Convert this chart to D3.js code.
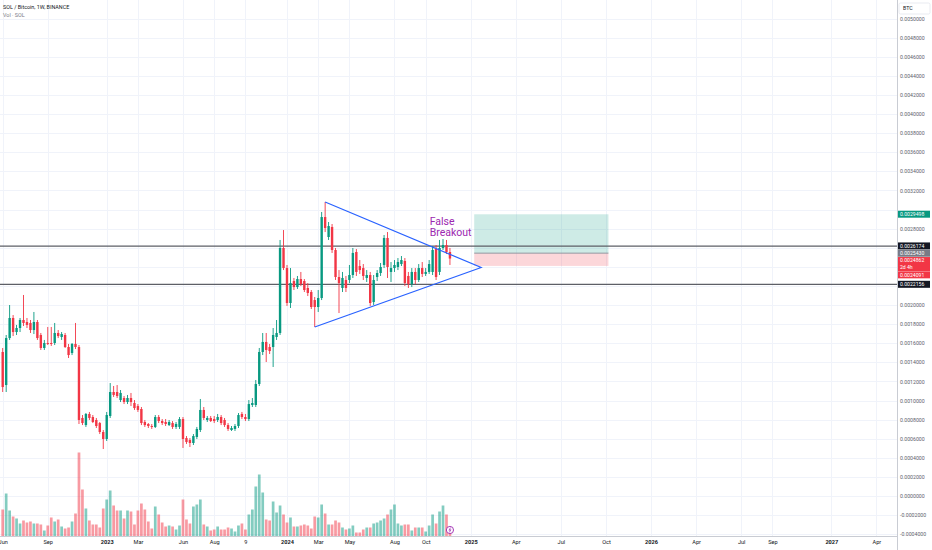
<!DOCTYPE html>
<html><head><meta charset="utf-8">
<script src="https://cdn.jsdelivr.net/npm/d3@7"></script>
<style>
body{margin:0;background:#fff;}
svg{display:block;font-family:Roboto,"Liberation Sans",sans-serif;}
</style>
</head><body>
<svg id="c" width="932" height="550"></svg>
<script>
// ---------- DATA (SOL / BTC weekly, BINANCE) ----------
const firstBar = "2022-06-06"; // Monday of first weekly bar
const opens = [.001508,.001162,.001654,.001864,.001717,.001759,.001843,.001822,.001812,.001738,
.001822,.001686,.001550,.001602,.001602,.001602,.001707,.001665,.001686,.001560,
.001497,.001592,.001560,.000817,.000743,.000859,.000827,.000796,.000764,.000670,
.000597,.000838,.001089,.001089,.001005,.001026,.000984,.001026,.000974,.000942,
.000911,.000775,.000754,.000733,.000723,.000827,.000785,.000775,.000743,.000764,
.000723,.000723,.000806,.000607,.000586,.000555,.000618,.000691,.000901,.000796,
.000817,.000806,.000796,.000827,.000796,.000743,.000691,.000702,.000733,.000859,
.000827,.000806,.000953,.000953,.001173,.001508,.001613,.001560,.001560,.001665,
.001707,.002597,.002387,.002021,.002251,.002188,.002272,.002251,.002178,.002136,
.002052,.001979,.002073,.002921,.002712,.002817,.002576,.002293,.002178,.002262,
.002262,.002314,.002555,.002408,.002387,.002283,.002314,.002031,.002293,.002335,
.002419,.002702,.002346,.002387,.002398,.002429,.002461,.002304,.002220,.002346,
.002262,.002387,.002325,.002346,.002346,.002586,.002346,.002597,.002628,.002555];
const highs = [.001550,.001686,.002000,.001895,.001791,.001864,.002105,.001864,.001843,.001927,
.001843,.001707,.001634,.001770,.001770,.001812,.001738,.001717,.001707,.001592,
.001602,.001812,.001581,.000848,.000869,.000880,.000848,.000817,.000775,.000691,
.000880,.001183,.001152,.001162,.001110,.001047,.001058,.001079,.001005,.000963,
.000932,.000796,.000764,.000754,.000848,.000848,.000806,.000806,.000796,.000785,
.000775,.000827,.000827,.000628,.000607,.000649,.000723,.001016,.000932,.000838,
.000838,.000838,.000859,.000848,.000817,.000764,.000733,.000754,.000869,.000880,
.000859,.001005,.001026,.001215,.001550,.001707,.001707,.001592,.001759,.001843,
.002681,.002785,.002419,.002387,.002283,.002304,.002346,.002272,.002230,.002157,
.002084,.002157,.002974,.003079,.002869,.002848,.002597,.002366,.002346,.002304,
.002419,.002597,.002586,.002471,.002429,.002366,.002346,.002314,.002366,.002440,
.002733,.002764,.002450,.002471,.002492,.002513,.002492,.002346,.002387,.002387,
.002429,.002450,.002387,.002471,.002618,.002628,.002681,.002691,.002681,.002597];
const lows = [.001089,.001089,.001634,.001675,.001686,.001717,.001780,.001759,.001707,.001696,
.001634,.001529,.001529,.001581,.001571,.001581,.001654,.001634,.001550,.001445,
.001476,.001539,.000754,.000743,.000723,.000796,.000764,.000712,.000649,.000492,
.000576,.000817,.001037,.001026,.000984,.000963,.000963,.000942,.000901,.000880,
.000743,.000723,.000712,.000702,.000712,.000764,.000743,.000733,.000733,.000702,
.000702,.000702,.000503,.000545,.000513,.000534,.000597,.000670,.000796,.000775,
.000775,.000764,.000775,.000743,.000723,.000681,.000681,.000681,.000712,.000806,
.000785,.000785,.000932,.000932,.001152,.001476,.001403,.001487,.001351,.001634,
.001686,.002366,.001990,.001969,.002157,.002168,.002199,.002136,.002094,.001958,
.001770,.001927,.002052,.002764,.002681,.002545,.002262,.001916,.002136,.002136,
.002230,.002283,.002304,.002325,.002262,.002241,.001990,.002000,.002251,.002304,
.002387,.002283,.002241,.002346,.002366,.002408,.002199,.002178,.002188,.002220,
.002241,.002293,.002304,.002325,.002314,.002262,.002314,.002576,.002534,.002419];
const closes = [.001141,.001654,.001864,.001717,.001759,.001843,.001812,.001791,.001738,.001822,
.001654,.001550,.001602,.001592,.001592,.001707,.001675,.001696,.001560,.001476,
.001592,.001560,.000796,.000764,.000859,.000817,.000775,.000733,.000670,.000597,
.000848,.001089,.001058,.001047,.001079,.000984,.001026,.000984,.000921,.000901,
.000764,.000743,.000733,.000723,.000827,.000785,.000764,.000754,.000775,.000723,
.000754,.000806,.000597,.000565,.000555,.000628,.000702,.000901,.000817,.000817,
.000785,.000785,.000827,.000764,.000743,.000702,.000712,.000733,.000848,.000827,
.000806,.000963,.000974,.001173,.001508,.001613,.001529,.001518,.001686,.001707,
.002597,.002387,.002021,.002230,.002188,.002272,.002220,.002157,.002126,.001979,
.001979,.002073,.002921,.002806,.002827,.002576,.002293,.002230,.002283,.002178,
.002314,.002545,.002346,.002366,.002304,.002314,.002021,.002262,.002335,.002398,
.002702,.002398,.002387,.002419,.002450,.002471,.002230,.002220,.002346,.002262,
.002387,.002325,.002346,.002429,.002576,.002293,.002597,.002628,.002555,.0024862];
// volume, relative units (M SOL, estimated)
const volumes = [27,43,26,20,18,13,16,14,15,13,13,12,6,11,19,15,17,10,8,9,15,23,
84,47,28,16,12,12,9,28,37,46,
31,26,26,18,26,25,12,26,33,27,15,8,30,22,14,10,11,10,7,11,37,17,13,30,32,37,12,10,6,7,10,7,7,9,8,5,11,
13,7,22,27,50,62,44,17,16,35,24,31,22,14,19,10,10,11,12,11,8,20,19,32,23,12,12,16,14,
9,7,8,11,4,4,7,9,9,13,14,16,18,22,27,32,13,11,12,12,6,9,9,9,5,11,22,13,25,31,22,4];

const priceTicks = d3.range(-4, 51, 2).map(v => v / 10000);
const timeTickDates = ["2022-06-06","2022-09-05","2023-01-02","2023-03-06","2023-06-05","2023-08-07","2023-10-09",
 "2024-01-01","2024-03-04","2024-05-06","2024-08-05","2024-10-07","2025-01-06","2025-04-07","2025-07-07",
 "2025-10-06","2026-01-05","2026-04-06","2026-07-06","2026-09-07","2027-01-04","2027-04-05"];
const timeTickLabels = ["Jun","Sep","2023","Mar","Jun","Aug","9","2024","Mar","May","Aug","Oct","2025","Apr","Jul",
 "Oct","2026","Apr","Jul","Sep","2027","Apr"];

const hLevels = [0.0026174, 0.0022156];
const triangleTop = ["2024-03-18", 0.003079];
const triangleBottom = ["2024-02-26", 0.001770];
const triangleApex = ["2025-01-27", 0.002393];
const posStart = "2025-01-13", posEnd = "2025-10-11";
const posTarget = 0.0029498, posEntry = 0.0025430, posStop = 0.0024091;
const noteDate = "2024-10-15", notePrice = 0.002838;
const noteLines = ["False", "Breakout"];
const countdown = "2d 4h";

// ---------- CHART ----------
const svg = d3.select("#c");
const W = 932, H = 550, plotR = 897, axisY = 536.5;
const up = "#089981", down = "#f23645";
const parse = d3.utcParse("%Y-%m-%d");
const t0 = parse(firstBar);
const dates = opens.map((_, i) => d3.utcMonday.offset(t0, i));
const x = d3.scaleUtc().domain([t0, parse("2027-01-04")]).range([2.7, 2.7 + 239 * 3.467]);
const y = d3.scaleLinear().domain([0, 0.005]).range([496, 18.5]);
const yv = d3.scaleLinear().domain([0, 100]).range([axisY, axisY - 100]);

svg.append("rect").attr("width", W).attr("height", H).attr("fill", "#fff");
svg.append("defs").append("clipPath").attr("id", "pc").append("rect")
  .attr("x", 0).attr("y", 0).attr("width", plotR).attr("height", axisY);

// grid
const grid = svg.append("g").attr("clip-path", "url(#pc)");
grid.selectAll("line.h").data(priceTicks).join("line")
  .attr("x1", 0).attr("x2", plotR).attr("y1", d => Math.round(y(d)) + 0.5).attr("y2", d => Math.round(y(d)) + 0.5)
  .attr("stroke", "#f0f3fa").attr("stroke-width", 1);
grid.selectAll("line.v").data(timeTickDates).join("line")
  .attr("y1", 0).attr("y2", axisY).attr("x1", d => Math.round(x(parse(d))) + 0.5).attr("x2", d => Math.round(x(parse(d))) + 0.5)
  .attr("stroke", "#f0f3fa").attr("stroke-width", 1);

const plot = svg.append("g").attr("clip-path", "url(#pc)");

// position box
const px0 = x(parse(posStart)), px1 = x(parse(posEnd));
plot.append("rect").attr("x", px0).attr("width", px1 - px0)
  .attr("y", y(posTarget)).attr("height", y(posEntry) - y(posTarget)).attr("fill", "rgba(8,153,129,0.2)");
plot.append("rect").attr("x", px0).attr("width", px1 - px0)
  .attr("y", y(posEntry)).attr("height", y(posStop) - y(posEntry)).attr("fill", "rgba(242,54,69,0.2)");
plot.append("line").attr("x1", px0).attr("x2", px1).attr("y1", y(posEntry)).attr("y2", y(posEntry))
  .attr("stroke", "#9598a1").attr("stroke-width", 1);

// volume
const isUp = i => closes[i] >= opens[i];
plot.selectAll("rect.vol").data(volumes).join("rect")
  .attr("x", (d, i) => x(dates[i]) - 1.35).attr("width", 2.7)
  .attr("y", d => yv(d)).attr("height", d => axisY - yv(d))
  .attr("fill", (d, i) => isUp(i) ? "rgba(8,153,129,0.5)" : "rgba(242,54,69,0.5)");

// horizontal levels
plot.selectAll("line.lvl").data(hLevels).join("line")
  .attr("x1", 0).attr("x2", plotR).attr("y1", d => y(d)).attr("y2", d => y(d))
  .attr("stroke", "#5d5f66").attr("stroke-width", 1.2);

// candles
const cg = plot.append("g");
cg.selectAll("rect.wick").data(opens).join("rect")
  .attr("x", (d, i) => x(dates[i]) - 0.45).attr("width", 0.9)
  .attr("y", (d, i) => y(highs[i])).attr("height", (d, i) => y(lows[i]) - y(highs[i]))
  .attr("fill", (d, i) => isUp(i) ? up : down);
cg.selectAll("rect.body").data(opens).join("rect")
  .attr("x", (d, i) => x(dates[i]) - 1.2).attr("width", 2.4)
  .attr("y", (d, i) => y(Math.max(opens[i], closes[i])))
  .attr("height", (d, i) => Math.max(0.8, Math.abs(y(opens[i]) - y(closes[i]))))
  .attr("fill", (d, i) => isUp(i) ? up : down);

// triangle
const tri = [triangleTop, triangleApex, triangleBottom].map(p => [x(parse(p[0])), y(p[1])]);
plot.append("path").attr("d", d3.line()(tri)).attr("fill", "none")
  .attr("stroke", "#2962ff").attr("stroke-width", 1.2);

// note
const note = plot.append("text").attr("x", x(parse(noteDate))).attr("y", y(notePrice))
  .attr("fill", "#9c27b0").attr("font-size", 10.5);
noteLines.forEach((t, k) => note.append("tspan").attr("x", x(parse(noteDate))).attr("dy", k ? 11.5 : 0).text(t));

// event icon
const ix = x(dates[dates.length - 1]);
svg.append("circle").attr("cx", ix).attr("cy", 530).attr("r", 3.6).attr("fill", "#fff")
  .attr("stroke", "#9c27b0").attr("stroke-width", 0.9);
svg.append("path").attr("d", `M${ix + 0.6},${527.6} L${ix - 1},${530.3} L${ix + 1},${529.7} L${ix - 0.6},${532.4}`)
  .attr("fill", "none").attr("stroke", "#9c27b0").attr("stroke-width", 0.7);

// axes frame
svg.append("line").attr("x1", 0).attr("x2", plotR).attr("y1", axisY).attr("y2", axisY)
  .attr("stroke", "#c9ccd3").attr("stroke-width", 1);
svg.append("line").attr("x1", plotR + 0.5).attr("x2", plotR + 0.5).attr("y1", 0).attr("y2", H)
  .attr("stroke", "#c9ccd3").attr("stroke-width", 1);

// price labels on axis (stacked so they never overlap)
const labels = [
  {v: posTarget, t: [posTarget.toFixed(7)], bg: up},
  {v: hLevels[0], t: [hLevels[0].toFixed(7)], bg: "#131722"},
  {v: posEntry, t: [posEntry.toFixed(7)], bg: "#787b86"},
  {v: closes[closes.length - 1], t: [closes[closes.length - 1].toFixed(7), countdown], bg: down},
  {v: posStop, t: [posStop.toFixed(7)], bg: down},
  {v: hLevels[1], t: [hLevels[1].toFixed(7)], bg: "#131722"}
].sort((a, b) => y(a.v) - y(b.v));
let prevBottom = -Infinity;
labels.forEach(l => {
  l.h = 7 * l.t.length;
  l.top = Math.max(y(l.v) - 3.6, prevBottom + 0.3);
  prevBottom = l.top + l.h;
});

// right axis: hide tick labels hidden behind price labels (as the platform does)
const visibleTicks = priceTicks.filter(v => {
  const ty = y(v);
  return !labels.some(l => ty + 3.2 > l.top && ty - 3.2 < l.top + l.h);
});
const ra = svg.append("g").attr("transform", `translate(${plotR + 3},0)`)
  .call(d3.axisRight(y).tickValues(visibleTicks).tickFormat(d => d.toFixed(7)).tickSize(0).tickPadding(0));
ra.select(".domain").remove();
ra.selectAll("text").attr("font-size", 5.2).attr("fill", "#5d606b").attr("font-family", "Roboto,sans-serif");

const lg = svg.append("g");
labels.forEach(l => {
  lg.append("rect").attr("x", plotR + 1).attr("y", l.top).attr("width", 32).attr("height", l.h).attr("fill", l.bg);
  l.t.forEach((s, k) => lg.append("text").attr("x", plotR + 3).attr("y", l.top + 5.2 + k * 6.6)
    .attr("font-size", 5.1).attr("fill", "#fff").text(s));
});

// bottom axis
const ba = svg.append("g").attr("transform", `translate(0,${axisY + 4})`)
  .call(d3.axisBottom(x).tickValues(timeTickDates.map(parse)).tickFormat((d, i) => timeTickLabels[i]).tickSize(0).tickPadding(0));
ba.select(".domain").remove();
ba.selectAll("text").attr("font-size", 5.6).attr("fill", "#131722").attr("font-family", "Roboto,sans-serif")
  .attr("font-weight", (d, i) => /^\d{4}$/.test(timeTickLabels[i]) ? "bold" : "normal");

// BTC unit box
svg.append("rect").attr("x", plotR + 2).attr("y", 3).attr("width", 31).attr("height", 11)
  .attr("fill", "#fff").attr("stroke", "#e0e3eb").attr("stroke-width", 0.7).attr("rx", 1.5);
svg.append("text").attr("x", plotR + 6).attr("y", 10.3).attr("font-size", 5.2).attr("fill", "#131722").text("BTC");

// legend
svg.append("text").attr("x", 3).attr("y", 8.5).attr("font-size", 5.4).attr("fill", "#131722").text("SOL / Bitcoin, 1W, BINANCE");
svg.append("text").attr("x", 3).attr("y", 16.5).attr("font-size", 5.4).attr("fill", "#787b86").text("Vol · SOL");
</script>
</body></html>
